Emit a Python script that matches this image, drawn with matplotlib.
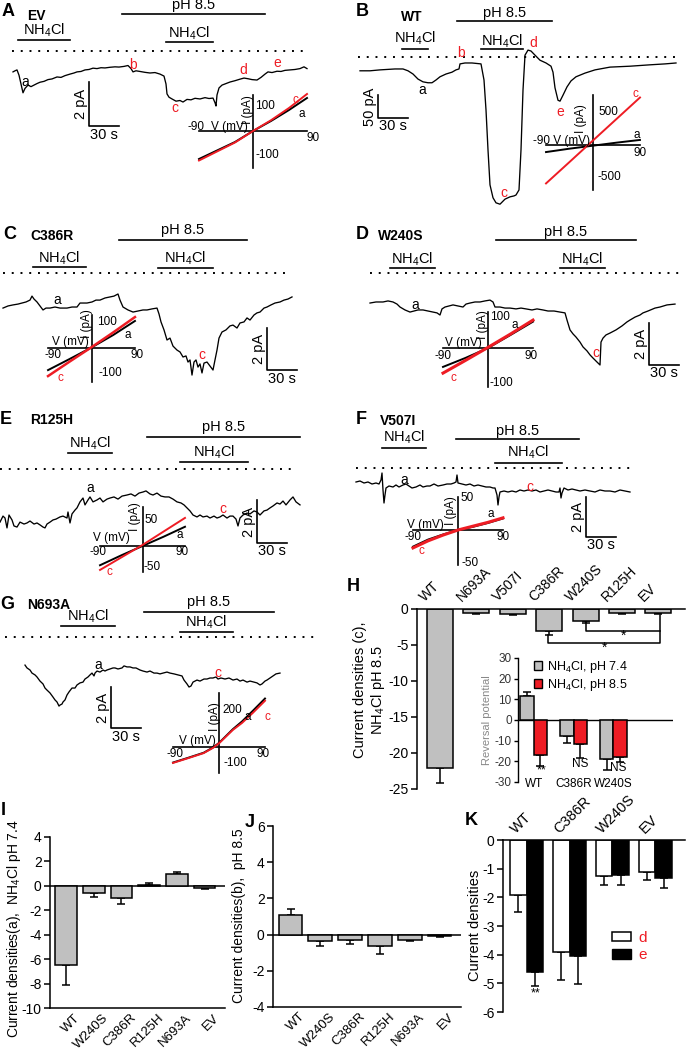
import matplotlib.pyplot as plt
import numpy as np
from matplotlib.patches import Patch

plt.rcParams['font.family'] = ['Liberation Sans', 'DejaVu Sans']
plt.rcParams['mathtext.fontset'] = 'custom'
plt.rcParams['mathtext.rm'] = 'Liberation Sans'
plt.rcParams['mathtext.it'] = 'Liberation Sans:italic'
plt.rcParams['axes.unicode_minus'] = False

W, H = 686, 1050
RED = '#ee1c24'
GRAY = '#c0c0c0'
NH4 = r'NH$_\mathregular{4}$Cl'

# whole-cell traces, (time s, current pA); dotted line is 0 pA
trace_A = [(13, -0.95), (15, -0.90), (17, -0.86), (19, -1.10), (21, -1.50), (23, -1.90), (25, -1.70),
           (28, -1.55), (31, -1.62), (34, -1.55), (37, -1.48), (40, -1.42), (44, -1.38), (48, -1.30),
           (52, -1.27), (57, -1.18), (61, -1.20), (65, -1.12), (70, -1.05), (74, -1.00), (77, -0.95),
           (81, -0.93), (85, -0.86), (89, -0.84), (93, -0.78), (97, -0.80), (101, -0.76), (105, -0.77),
           (110, -0.74), (115, -0.72), (119, -0.73), (124, -0.70), (128, -0.66), (131, -0.80), (133, -0.95),
           (136, -0.90), (140, -0.93), (145, -0.97), (150, -1.00), (155, -0.98), (160, -1.05), (164, -1.14),
           (166, -1.50), (167, -1.95), (169, -2.10), (172, -2.18), (176, -2.28), (180, -2.25), (183, -2.32),
           (187, -2.20), (191, -2.22), (195, -2.15), (200, -2.18), (205, -2.12), (209, -2.16), (213, -2.14),
           (215, -2.35), (216, -2.50), (217, -2.00), (219, -1.68), (222, -1.55), (226, -1.48), (230, -1.41),
           (235, -1.35), (240, -1.28), (244, -1.23), (248, -1.26), (252, -1.30), (257, -1.32), (261, -1.20),
           (265, -1.05), (268, -0.95), (272, -0.98), (277, -0.92), (281, -0.93), (285, -0.88), (290, -0.86),
           (295, -0.84), (300, -0.80), (304, -0.72), (307, -0.80)]
trace_B = [(17, -30), (27, -30), (37, -28), (52, -26), (60, -26), (65, -30), (70, -37), (75, -48),
           (80, -54), (85, -56), (89, -56), (93, -50), (97, -43), (103, -37), (109, -33), (113, -28),
           (116, -26), (117, -15), (122, -13), (129, -13), (138, -15), (141, -50), (143, -115), (145, -202),
           (147, -278), (150, -306), (153, -317), (157, -320), (162, -309), (167, -304), (171, -302),
           (173, -300), (176, -289), (178, -202), (180, -72), (182, 4), (185, 15), (188, 13), (192, 4),
           (197, -7), (203, -13), (208, -20), (210, -33), (212, -67), (215, -94), (217, -96), (220, -83),
           (224, -65), (228, -52), (233, -43), (242, -35), (252, -28), (267, -22), (287, -20), (307, -17),
           (322, -15), (333, -13)]
trace_C = [(3, -1.67), (8, -1.57), (13, -1.52), (18, -1.48), (22, -1.43), (26, -1.38), (30, -1.29),
           (32, -1.10), (34, -1.24), (37, -1.38), (40, -1.57), (43, -1.76), (46, -1.67), (50, -1.67),
           (55, -1.62), (60, -1.67), (67, -1.67), (72, -1.62), (77, -1.62), (80, -1.43), (84, -1.43),
           (87, -1.43), (92, -1.38), (96, -1.29), (100, -1.29), (105, -1.19), (110, -1.14), (114, -1.10),
           (118, -1.00), (120, -1.29), (123, -1.62), (128, -1.76), (133, -1.86), (138, -1.81), (143, -1.76),
           (147, -1.76), (152, -1.71), (157, -1.67), (159, -1.95), (161, -2.33), (164, -2.71), (167, -3.19),
           (170, -3.10), (173, -3.48), (177, -3.67), (180, -3.76), (183, -4.00), (186, -3.95), (188, -4.24),
           (190, -4.14), (192, -4.86), (194, -4.24), (196, -4.14), (198, -4.48), (200, -4.33), (202, -4.76),
           (204, -4.29), (207, -4.24), (210, -4.43), (213, -4.62), (215, -4.14), (217, -3.67), (219, -3.10),
           (222, -2.81), (226, -2.71), (230, -2.52), (233, -2.48), (237, -2.62), (240, -2.38), (244, -2.33),
           (247, -2.14), (250, -2.24), (254, -2.00), (257, -1.90), (260, -1.86), (264, -1.67), (267, -1.62),
           (271, -1.52), (275, -1.43), (280, -1.38), (284, -1.29), (288, -1.24), (292, -1.14)]
trace_D = [(27, -1.43), (33, -1.38), (40, -1.38), (45, -1.33), (50, -1.38), (54, -1.48), (57, -1.62),
           (62, -1.76), (67, -1.86), (71, -1.81), (75, -1.76), (80, -1.76), (85, -1.81), (90, -1.86),
           (94, -1.90), (97, -2.00), (99, -1.71), (102, -1.62), (106, -1.57), (110, -1.52), (115, -1.57),
           (120, -1.62), (123, -1.48), (127, -1.43), (132, -1.38), (137, -1.38), (142, -1.33), (147, -1.29),
           (150, -1.38), (152, -1.62), (157, -1.62), (162, -1.67), (167, -1.67), (173, -1.71), (178, -1.67),
           (183, -1.71), (189, -1.76), (194, -1.71), (200, -1.76), (205, -1.81), (211, -1.81), (217, -1.86),
           (222, -1.90), (224, -2.24), (227, -2.71), (230, -2.90), (233, -3.05), (237, -3.29), (240, -3.52),
           (244, -3.71), (247, -3.90), (250, -4.05), (254, -4.24), (257, -4.38), (258, -3.29), (260, -3.10),
           (263, -2.95), (267, -2.86), (273, -2.71), (279, -2.52), (284, -2.33), (287, -2.24), (292, -2.10),
           (297, -2.00), (300, -1.90), (305, -1.81), (312, -1.67), (317, -1.62), (324, -1.52), (332, -1.48)]
trace_E = [(0, -2.47), (3, -2.19), (5, -2.28), (7, -2.74), (9, -2.14), (12, -2.37), (14, -2.65),
           (17, -2.70), (20, -2.47), (24, -2.56), (27, -2.51), (30, -2.42), (34, -2.56), (37, -2.51),
           (40, -2.60), (43, -2.70), (45, -2.74), (47, -2.56), (50, -2.47), (53, -2.37), (56, -2.33),
           (60, -2.23), (63, -2.19), (67, -2.28), (68, -2.00), (70, -2.51), (72, -2.09), (75, -1.91),
           (77, -1.81), (80, -1.53), (83, -1.35), (85, -1.67), (88, -1.44), (90, -1.30), (93, -1.53),
           (97, -1.44), (100, -1.35), (103, -1.53), (107, -1.40), (110, -1.35), (114, -1.30), (118, -1.40),
           (122, -1.26), (127, -1.21), (131, -1.16), (135, -1.26), (139, -1.12), (143, -1.07), (146, -1.02),
           (150, -1.16), (153, -1.21), (157, -1.12), (161, -1.26), (165, -1.30), (169, -1.30), (173, -1.40),
           (177, -1.53), (181, -1.58), (184, -1.67), (187, -1.81), (190, -1.95), (193, -2.14), (197, -2.23),
           (200, -2.14), (203, -2.23), (207, -2.19), (210, -2.28), (214, -2.19), (217, -2.28), (220, -2.23),
           (223, -2.14), (227, -2.28), (230, -2.19), (233, -2.19), (236, -2.33), (238, -2.65), (240, -2.28),
           (243, -2.14), (247, -2.05), (250, -2.09), (254, -1.95), (257, -2.00), (260, -2.14), (264, -1.95),
           (267, -1.91), (270, -1.81), (273, -1.72), (277, -1.58), (280, -1.63), (283, -1.49), (286, -1.67),
           (290, -1.44), (293, -1.30), (296, -1.53), (300, -1.67)]
trace_F = [(13, -0.70), (17, -0.65), (21, -0.75), (25, -0.70), (29, -0.80), (33, -0.75), (36, -0.80),
           (38, -0.60), (39, -0.25), (40, -1.10), (41, -1.75), (42, -1.35), (43, -1.00), (46, -0.90),
           (50, -0.95), (53, -0.85), (56, -0.95), (60, -0.85), (63, -0.80), (66, -0.90), (69, -1.00),
           (73, -0.95), (77, -0.85), (80, -0.95), (84, -0.90), (87, -0.90), (91, -0.80), (95, -0.90),
           (100, -0.85), (104, -0.80), (108, -0.80), (111, -0.75), (113, -0.70), (114, -0.35), (115, -0.75),
           (119, -0.80), (123, -0.85), (127, -0.80), (131, -0.90), (135, -0.85), (139, -0.90), (143, -0.95),
           (147, -0.95), (150, -1.00), (152, -1.00), (154, -1.35), (155, -1.85), (156, -1.45), (157, -1.20),
           (161, -1.15), (165, -1.20), (169, -1.15), (173, -1.20), (177, -1.10), (181, -1.15), (185, -1.10),
           (189, -1.15), (193, -1.10), (197, -1.20), (201, -1.15), (205, -1.10), (209, -1.15), (213, -1.20),
           (216, -1.20), (217, -1.00), (218, -1.50), (219, -1.25), (221, -1.00), (225, -1.10), (229, -1.05),
           (233, -1.10), (237, -1.15), (242, -1.10), (247, -1.15), (252, -1.20), (257, -1.10), (262, -1.15),
           (267, -1.15), (272, -1.20), (277, -1.10), (282, -1.15), (287, -1.20)]
trace_G = [(25, -1.37), (27, -1.51), (30, -1.61), (32, -1.76), (35, -1.85), (37, -1.95), (40, -2.15),
           (43, -2.29), (45, -2.49), (47, -2.59), (50, -2.73), (53, -2.93), (55, -3.07), (57, -3.17),
           (59, -3.37), (60, -3.32), (62, -3.27), (63, -3.17), (65, -3.07), (67, -2.83), (69, -2.68),
           (72, -2.49), (75, -2.49), (77, -2.34), (80, -2.24), (83, -2.20), (85, -2.05), (88, -1.95),
           (90, -1.85), (92, -1.76), (94, -1.90), (95, -1.76), (97, -1.66), (100, -1.71), (103, -1.61),
           (105, -1.66), (107, -1.61), (110, -1.56), (113, -1.51), (115, -1.51), (118, -1.56), (122, -1.51),
           (124, -1.41), (127, -1.46), (130, -1.46), (133, -1.51), (136, -1.51), (140, -1.61), (143, -1.66),
           (147, -1.71), (150, -1.66), (154, -1.76), (157, -1.76), (160, -1.80), (163, -1.76), (167, -1.71),
           (170, -1.76), (174, -1.80), (178, -1.85), (182, -1.90), (184, -2.10), (187, -2.29), (189, -2.44),
           (191, -2.39), (193, -2.20), (197, -2.10), (200, -2.15), (204, -2.05), (207, -2.05), (210, -2.00),
           (213, -2.00), (216, -1.95), (218, -2.05), (221, -2.00), (225, -2.05), (229, -2.00), (233, -2.10),
           (237, -2.05), (240, -2.15), (243, -2.10), (247, -2.20), (250, -2.15), (254, -2.20), (257, -2.24),
           (260, -2.34), (262, -2.29), (265, -2.15), (267, -2.10), (270, -2.00), (273, -1.90), (276, -1.80),
           (280, -1.76)]

# I-V ramps, V in mV, I in pA (a = NH4Cl pH 7.4, c = NH4Cl pH 8.5)
ivA_v = [-90, -60, -30, 0, 30, 60, 90]
ivA_a = [-112, -78, -44, 0, 40, 84, 132]
ivA_c = [-118, -82, -46, 0, 43, 92, 148]
ivB_v = [-90, -45, 0, 45, 90]
ivB_a = [-106, -55, -10, 35, 76]
ivB_c = [-576, -255, 68, 390, 712]
ivC_v = [-90, -45, 0, 45, 90]
ivC_a = [-85, -42, 2, 50, 104]
ivC_c = [-108, -52, 3, 60, 119]
ivD_v = [-90, -45, 0, 45, 90]
ivD_a = [-61, -32, 0, 42, 85]
ivD_c = [-81, -40, 2, 45, 90]
ivE_v = [-90, -45, 0, 45, 90]
ivE_a = [-37, -18, 0, 18, 37]
ivE_c = [-46, -22, 2, 28, 54]
ivF_v = [-90, -60, -30, 0, 30, 60, 90]
ivF_a = [-26, -15, -7, 0, 5, 11, 18]
ivF_c = [-28, -17, -8, 0, 6, 12, 19]
ivG_v = [-90, -60, -30, -12, 0, 27, 45, 66, 90]
ivG_a = [-84, -58, -31, -3, 22, 96, 138, 195, 262]
ivG_c = [-86, -60, -33, -5, 20, 92, 130, 184, 250]

# bar charts
h_groups = ['WT', 'N693A', 'V507I', 'C386R', 'W240S', 'R125H', 'EV']
h_mean = [-22.1, -0.6, -0.7, -3.0, -1.6, -0.6, -0.6]
h_err = [2.1, 0.15, 0.2, 0.6, 0.3, 0.1, 0.1]
rev_groups = ['WT', 'C386R', 'W240S']
rev_74 = [11.5, -7.6, -19.1]
rev_74_err = [2.0, 3.4, 4.9]
rev_85 = [-17.0, -11.7, -17.8]
rev_85_err = [5.3, 6.5, 2.5]
rev_sig = ['**', 'NS', 'NS']
i_groups = ['WT', 'W240S', 'C386R', 'R125H', 'N693A', 'EV']
i_mean = [-6.45, -0.6, -1.0, 0.1, 0.95, -0.15]
i_err = [1.7, 0.3, 0.5, 0.15, 0.22, 0.1]
j_groups = ['WT', 'W240S', 'C386R', 'R125H', 'N693A', 'EV']
j_mean = [1.1, -0.37, -0.3, -0.63, -0.3, -0.1]
j_err = [0.32, 0.28, 0.2, 0.42, 0.07, 0.03]
k_groups = ['WT', 'C386R', 'W240S', 'EV']
k_d = [-1.92, -3.9, -1.26, -1.1]
k_d_err = [0.6, 0.98, 0.31, 0.3]
k_e = [-4.6, -4.03, -1.23, -1.34]
k_e_err = [0.48, 0.99, 0.34, 0.35]

fig = plt.figure(figsize=(W / 100, H / 100), dpi=100)


def px_box(l, t, r, b):
    return [l / W, 1 - b / H, (r - l) / W, (b - t) / H]


def fig_text(x, y, s, **kw):
    return fig.text(x / W, 1 - y / H, s, **kw)


def trace_panel(box, base, ppa, trace, ph, nh1, nh2, dots, bar, bar_text, marks):
    l, t, r, b = box
    ax = fig.add_axes(px_box(l, t, r, b))
    ax.set_xlim(0, r - l)
    ax.set_ylim((base - b) / ppa, (base - t) / ppa)
    ax.axis('off')
    ts, cur = np.array(trace).T
    ax.plot(ts, cur, color='k', lw=0.95)
    ax.plot(dots, [0, 0], color='k', lw=1.4, ls=(0, (1, 3.5)))
    for (t0, t1, yl, yt), txt in [(ph, 'pH 8.5'), (nh1, NH4), (nh2, NH4)]:
        ax.plot([t0, t1], [yl, yl], color='k', lw=1.2)
        ax.text((t0 + t1) / 2, yt, txt, ha='center', va='center', fontsize=10.5)
    x0, y0, dy, dx = bar
    ax.plot([x0, x0, x0 + dx], [y0 + dy, y0, y0], color='k', lw=1.2)
    ax.text(x0 - 8, y0 + dy / 2, bar_text, rotation=90, ha='center', va='center', fontsize=10.5)
    ax.text(x0 + dx / 2, y0 - 1.5 / ppa, '30 s', ha='center', va='top', fontsize=10.5)
    for x, y, s, c in marks:
        ax.text(x, y, s, color=c, ha='center', va='center', fontsize=10)
    return ax


def iv_panel(cx, cy, smv, spa, v, ia, ic, yext, labels, red_lw=1.4):
    ax = fig.add_axes(px_box(cx - 75, cy - 65, cx + 75, cy + 65))
    ax.set_xlim(-75 / smv, 75 / smv)
    ax.set_ylim(-65 / spa, 65 / spa)
    ax.axis('off')
    ax.plot([-90, 90], [0, 0], color='k', lw=1.2)
    ax.plot([0, 0], yext, color='k', lw=1.2)
    ax.plot(v, ia, color='k', lw=1.4)
    ax.plot(v, ic, color=RED, lw=red_lw)
    for x, y, s, c, ha, rot in labels:
        ax.text(x, y, s, color=c, ha=ha, va='center', rotation=rot, fontsize=8.5)
    return ax


def panel_letters(lx, ly, letter, nx, ny, name):
    fig_text(lx, ly, letter, fontsize=13, fontweight='bold', va='top', ha='left')
    fig_text(nx, ny, name, fontsize=10, fontweight='bold', va='top', ha='left')


# ---------------- A: EV
trace_panel((0, 0, 343, 210), 51, 22, trace_A,
            (122, 265, 1.68, 2.09), (18, 70, 0.50, 0.95), (166, 213, 0.41, 0.82), (12, 305),
            (89, -3.41, 2, 30), '2 pA',
            [(25, -1.41, 'a', 'k'), (133, -0.64, 'b', RED), (175, -2.59, 'c', RED),
             (243, -0.86, 'd', RED), (277, -0.55, 'e', RED)])
iv_panel(253, 131, 0.6, 0.25, ivA_v, ivA_a, ivA_c, [-148, 144],
         [(4, 100, '100', 'k', 'left', 0), (4, -96, '-100', 'k', 'left', 0),
          (-95, 16, '-90', 'k', 'center', 0), (-40, 16, 'V (mV)', 'k', 'center', 0),
          (100, -28, '90', 'k', 'center', 0), (-8, 86, 'I (pA)', 'k', 'center', 90),
          (70, 124, 'c', RED, 'center', 0), (82, 68, 'a', 'k', 'center', 0)])
panel_letters(2, 3, 'A', 27, 9, 'EV')

# ---------------- B: WT
trace_panel((343, 0, 686, 210), 57, 0.46, trace_B,
            (114, 209, 78.3, 95.7), (59, 85, 17.4, 41.3), (138, 180, 17.4, 34.8), (15, 333),
            (35, -132.6, 50, 30), '50 pA',
            [(79, -72, 'a', 'k'), (118, 9, 'b', RED), (161, -296, 'c', RED),
             (190, 30, 'd', RED), (217, -120, 'e', RED)])
iv_panel(593, 145, 0.522, 0.0667, ivB_v, ivB_a, ivB_c, [-675, 750],
         [(11, 495, '500', 'k', 'left', 0), (8, -480, '-500', 'k', 'left', 0),
          (-61, 60, '-90 V (mV)', 'k', 'center', 0), (90, -120, '90', 'k', 'center', 0),
          (-23, 390, 'I (pA)', 'k', 'center', 90), (84, 150, 'a', 'k', 'center', 0),
          (82, 765, 'c', RED, 'center', 0)])
panel_letters(356, 3, 'B', 401, 10, 'WT')

# ---------------- C: C386R
trace_panel((0, 210, 343, 410), 273, 21, trace_C,
            (119, 247, 1.57, 2.05), (33, 86, 0.29, 0.71), (158, 213, 0.24, 0.71), (3, 290),
            (267, -4.62, 2, 30), '2 pA',
            [(57, -1.29, 'a', 'k'), (202, -3.9, 'c', RED)])
iv_panel(91.5, 348, 0.483, 0.26, ivC_v, ivC_a, ivC_c, [-131, 127],
         [(11, 100, '100', 'k', 'left', 0), (14, -96, '-100', 'k', 'left', 0),
          (-44, 24, 'V (mV)', 'k', 'center', 0), (-80, -27, '-90', 'k', 'center', 0),
          (94, -27, '90', 'k', 'center', 0), (-9, 93, 'I (pA)', 'k', 'center', 90),
          (76, 50, 'a', 'k', 'center', 0), (-65, -115, 'c', RED, 'center', 0)], red_lw=1.8)
panel_letters(3, 226, 'C', 30, 229, 'C386R')

# ---------------- D: W240S
trace_panel((343, 210, 686, 410), 273, 21, trace_D,
            (153, 293, 1.57, 1.95), (47, 92, 0.24, 0.67), (217, 262, 0.24, 0.67), (27, 337),
            (306, -4.38, 2, 30), '2 pA',
            [(72, -1.52, 'a', 'k'), (253, -3.81, 'c', RED)])
iv_panel(488, 348, 0.5, 0.31, ivD_v, ivD_a, ivD_c, [-126, 116],
         [(4, 100, '100', 'k', 'left', 0), (4, -113, '-100', 'k', 'left', 0),
          (-50, 16, 'V (mV)', 'k', 'center', 0), (-90, -26, '-90', 'k', 'center', 0),
          (86, -26, '90', 'k', 'center', 0), (-10, 74, 'I (pA)', 'k', 'center', 90),
          (54, 74, 'a', 'k', 'center', 0), (-70, -97, 'c', RED, 'center', 0)], red_lw=2.2)
panel_letters(356, 226, 'D', 378, 229, 'W240S')

# ---------------- E: R125H
trace_panel((0, 410, 343, 570), 469, 21.5, trace_E,
            (147, 300, 1.49, 1.95), (68, 112, 0.74, 1.21), (180, 248, 0.33, 0.79), (0, 297),
            (257, -3.44, 2, 30), '2 pA',
            [(90, -0.88, 'a', 'k'), (223, -1.86, 'c', RED)])
iv_panel(142.5, 546, 0.472, 0.52, ivE_v, ivE_a, ivE_c, [-50, 75],
         [(5, 50, '50', 'k', 'left', 0), (3, -40, '-50', 'k', 'left', 0),
          (-65, 15, 'V (mV)', 'k', 'center', 0), (-94, -12, '-90', 'k', 'center', 0),
          (84, -12, '90', 'k', 'center', 0), (-16, 56, 'I (pA)', 'k', 'center', 90),
          (79, 21, 'a', 'k', 'center', 0), (-69, -50, 'c', RED, 'center', 0)])
panel_letters(0, 411, 'E', 30, 413, 'R125H')

# ---------------- F: V507I
trace_panel((343, 410, 686, 570), 468, 20, trace_F,
            (113, 236, 1.45, 1.85), (39, 83, 1.0, 1.55), (152, 219, 0.25, 0.8), (13, 292),
            (243, -3.45, 2, 30), '2 pA',
            [(61, -0.6, 'a', 'k'), (187, -0.95, 'c', RED)])
iv_panel(458, 530, 0.5, 0.64, ivF_v, ivF_a, ivF_c, [-55, 52],
         [(4, 50, '50', 'k', 'left', 0), (6, -52, '-50', 'k', 'left', 0),
          (-66, 8, 'V (mV)', 'k', 'center', 0), (-90, -11, '-90', 'k', 'center', 0),
          (90, -11, '90', 'k', 'center', 0), (-14, 31, 'I (pA)', 'k', 'center', 90),
          (66, 25, 'a', 'k', 'center', 0), (-74, -33, 'c', RED, 'center', 0)], red_lw=2.2)
panel_letters(356, 411, 'F', 380, 414, 'V507I')

# ---------------- G: N693A
trace_panel((0, 570, 343, 800), 637, 20.5, trace_G,
            (144, 274, 1.22, 1.71), (61, 115, 0.54, 1.0), (180, 233, 0.24, 0.73), (5, 318),
            (111, -4.44, 2, 30), '2 pA',
            [(98, -1.37, 'a', 'k'), (218, -1.76, 'c', RED)])
iv_panel(219, 747, 0.511, 0.185, ivG_v, ivG_a, ivG_c, [-141, 292],
         [(6, 200, '200', 'k', 'left', 0), (8, -86, '-100', 'k', 'left', 0),
          (-43, 32, 'V (mV)', 'k', 'center', 0), (-86, -38, '-90', 'k', 'center', 0),
          (86, -38, '90', 'k', 'center', 0), (-8, 162, 'I (pA)', 'k', 'center', 90),
          (57, 162, 'a', 'k', 'center', 0), (94, 162, 'c', RED, 'center', 0)])
panel_letters(0, 596, 'G', 27, 598, 'N693A')


# ---------------- bar charts
def bar_axes(box, xlim, ylim, zero_on_top):
    ax = fig.add_axes(px_box(*box))
    ax.set_xlim(*xlim)
    ax.set_ylim(*ylim)
    ax.patch.set_visible(False)
    ax.spines['right'].set_visible(False)
    ax.spines['top'].set_visible(zero_on_top)
    ax.spines['bottom'].set_visible(not zero_on_top)
    for s in ax.spines.values():
        s.set_linewidth(1.1)
    ax.set_xticks([])
    ax.tick_params(axis='y', direction='out', length=4, width=1.1, labelsize=10, pad=2)
    return ax


def one_sided(mean, err):
    lo = [e if m < 0 else 0 for m, e in zip(mean, err)]
    hi = [e if m >= 0 else 0 for m, e in zip(mean, err)]
    return [lo, hi]


def bars(ax, x, mean, err, width, color):
    ax.bar(x, mean, width, color=color, edgecolor='k', linewidth=1.1, zorder=2)
    ax.errorbar(x, mean, yerr=one_sided(mean, err), fmt='none', ecolor='k',
                elinewidth=1.1, capsize=3, capthick=1.1, zorder=1)


# H
axH = bar_axes((417, 609, 685, 789), (-0.63, 6.73), (-25, 0), True)
xh = np.arange(len(h_groups))
bars(axH, xh, h_mean, h_err, 0.71, GRAY)
axH.set_yticks([0, -5, -10, -15, -20, -25])
for i, g in enumerate(h_groups):
    axH.text(i - 0.35, 0.7, g, rotation=45, rotation_mode='anchor', ha='left', va='bottom',
             fontsize=10, clip_on=False)
# significance brackets
axH.plot([4, 4, 6.04], [-1.9, -3.06, -3.06], color='k', lw=1.1)
axH.plot([2.97, 2.97, 6.04, 6.04], [-3.6, -4.7, -4.7, -0.8], color='k', lw=1.1)
axH.text(5.03, -3.75, '*', ha='center', va='center', fontsize=10)
axH.text(4.53, -5.4, '*', ha='center', va='center', fontsize=10)
fig_text(370, 690, 'Current densities (c),\n' + NH4 + ' pH 8.5', rotation=90, ha='center',
         va='center', multialignment='center', fontsize=10.5, linespacing=1.1)
fig_text(347, 578, 'H', fontsize=13, fontweight='bold', va='top')

# H inset: reversal potential
axR = fig.add_axes(px_box(518, 658, 673, 782))
axR.set_xlim(-0.39, 3.49)
axR.set_ylim(-30, 30)
axR.patch.set_visible(False)
for s in ['top', 'right', 'bottom']:
    axR.spines[s].set_visible(False)
axR.spines['left'].set_linewidth(1.0)
axR.axhline(0, color='k', lw=1.0)
axR.set_xticks([])
axR.set_yticks([30, 20, 10, 0, -10, -20, -30])
axR.tick_params(axis='y', direction='out', length=3, width=1.0, labelsize=8.5, pad=1.5,
                labelcolor='#333333')
xr = np.arange(len(rev_groups))
bars(axR, xr - 0.17, rev_74, rev_74_err, 0.34, GRAY)
bars(axR, xr + 0.17, rev_85, rev_85_err, 0.34, RED)
for i, g in enumerate(rev_groups):
    axR.text(i, -31, g, ha='center', va='center', fontsize=8.5, clip_on=False)
axR.text(0.2, -24.6, rev_sig[0], ha='center', va='center', fontsize=9)
axR.text(1.17, -21.5, rev_sig[1], ha='center', va='center', fontsize=8.5)
axR.text(2.12, -23.0, rev_sig[2], ha='center', va='center', fontsize=8.5)
axR.text(-0.2, 0.5, 'Reversal potential', transform=axR.transAxes, rotation=90,
         ha='center', va='center', fontsize=8, color='#888888')
axR.legend(handles=[Patch(fc=GRAY, ec='k', lw=1), Patch(fc=RED, ec='k', lw=1)],
           labels=[NH4 + ', pH 7.4', NH4 + ', pH 8.5'], frameon=False, loc='upper left',
           bbox_to_anchor=(0.1, 0.99), fontsize=9, handlelength=0.7, handleheight=0.7,
           handletextpad=0.4, labelspacing=0.15, borderpad=0, borderaxespad=0)

# I
axI = bar_axes((50, 837, 225, 1008), (-0.58, 5.74), (-10, 4), False)
xi = np.arange(len(i_groups))
axI.axhline(0, color='k', lw=1.1)
bars(axI, xi, i_mean, i_err, 0.79, GRAY)
axI.set_yticks([4, 2, 0, -2, -4, -6, -8, -10])
for i, g in enumerate(i_groups):
    axI.text(i + 0.3, -10.3, g, rotation=45, rotation_mode='anchor', ha='right', va='top',
             fontsize=9.5, clip_on=False)
fig_text(14, 929, 'Current densities(a),  ' + NH4 + ' pH 7.4', rotation=90, ha='center',
         va='center', fontsize=10)
fig_text(1, 802, 'I', fontsize=13, fontweight='bold', va='top')

# J
axJ = bar_axes((273, 826, 461, 1007), (-0.59, 5.72), (-4, 6), False)
xj = np.arange(len(j_groups))
axJ.axhline(0, color='k', lw=1.1)
bars(axJ, xj, j_mean, j_err, 0.8, GRAY)
axJ.set_yticks([6, 4, 2, 0, -2, -4])
for i, g in enumerate(j_groups):
    axJ.text(i + 0.3, -4.2, g, rotation=45, rotation_mode='anchor', ha='right', va='top',
             fontsize=9.5, clip_on=False)
fig_text(239, 916, 'Current densities(b),  pH 8.5', rotation=90, ha='center', va='center',
         fontsize=10)
fig_text(245, 814, 'J', fontsize=13, fontweight='bold', va='top')

# K
axK = bar_axes((503, 840, 685, 1012), (-0.55, 3.69), (-6, 0), True)
xk = np.arange(len(k_groups))
bars(axK, xk - 0.19, k_d, k_d_err, 0.38, 'white')
bars(axK, xk + 0.19, k_e, k_e_err, 0.38, 'black')
axK.set_yticks([0, -1, -2, -3, -4, -5, -6])
for i, g in enumerate(k_groups):
    axK.text(i - 0.2, 0.15, g, rotation=45, rotation_mode='anchor', ha='left', va='bottom',
             fontsize=10.5, clip_on=False)
axK.text(0.22, -5.35, '**', ha='center', va='center', fontsize=9)
axK.legend(handles=[Patch(fc='white', ec='k', lw=1.1), Patch(fc='black', ec='k')],
           labels=['d', 'e'], labelcolor=RED, frameon=False, loc='upper left',
           bbox_to_anchor=((612 - 503) / 182, (1012 - 931) / 172), fontsize=11,
           handlelength=1.25, handleheight=0.6, handletextpad=0.5, labelspacing=0.2,
           borderpad=0, borderaxespad=0)
fig_text(475, 925, 'Current densities', rotation=90, ha='center', va='center', fontsize=10.5)
fig_text(465, 812, 'K', fontsize=13, fontweight='bold', va='top')

fig.savefig('out.png', dpi=100, facecolor='white')
